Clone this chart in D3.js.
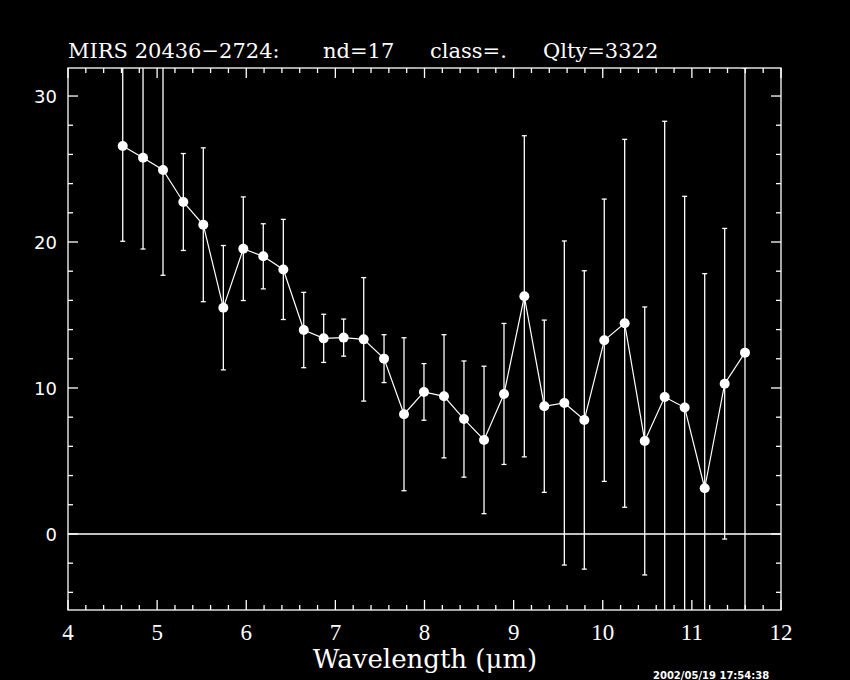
<!DOCTYPE html>
<html>
<head>
<meta charset="utf-8">
<script src="https://cdn.jsdelivr.net/npm/d3@7"></script>
<style>
  body { margin: 0; background: #000; }
  svg { display: block; background: #000; }
  text { fill: #fff; }
</style>
</head>
<body>
<div id="viz"></div>
<script>
// wavelength (um), flux and 1-sigma error
const wavelength = [4.614, 4.842, 5.066, 5.294, 5.518, 5.743, 5.967, 6.191, 6.416, 6.645,
  6.869, 7.093, 7.318, 7.546, 7.770, 7.994, 8.219, 8.443, 8.668, 8.892,
  9.120, 9.344, 9.569, 9.793, 10.017, 10.246, 10.471, 10.695, 10.919, 11.144,
  11.368, 11.596];
const flux = [26.58, 25.77, 24.93, 22.74, 21.18, 15.50, 19.54, 19.02, 18.12, 13.97,
  13.40, 13.45, 13.33, 12.01, 8.20, 9.73, 9.43, 7.87, 6.44, 9.59,
  16.28, 8.75, 8.97, 7.81, 13.27, 14.43, 6.37, 9.38, 8.66, 3.13,
  10.29, 12.42];
const fluxErr = [6.53, 6.25, 7.21, 3.32, 5.27, 4.26, 3.55, 2.23, 3.43, 2.58,
  1.65, 1.27, 4.23, 1.64, 5.24, 1.94, 4.22, 3.98, 5.05, 4.83,
  11.0, 5.9, 11.1, 10.22, 9.67, 12.6, 9.18, 18.89, 14.47, 14.7,
  10.64, 19.5];
const xTicks = [4, 5, 6, 7, 8, 9, 10, 11, 12];
const yTicks = [0, 10, 20, 30];
const titleParts = ["MIRS 20436\u22122724:", "nd=17", "class=.", "Qlty=3322"];
const stamp = "2002/05/19 17:54:38";

const w = 850, h = 680;
const boxL = 68, boxR = 781, boxT = 68, boxB = 610;

const data = wavelength.map((d, i) => ({x: d, y: flux[i], e: fluxErr[i]}));

const svg = d3.select("#viz").append("svg")
  .attr("width", w).attr("height", h);

const x = d3.scaleLinear().domain([4, 12]).range([boxL, boxR]);
const y = d3.scaleLinear().domain([-5.21, 31.92]).range([boxB, boxT]);

svg.append("clipPath").attr("id", "plot")
  .append("rect")
  .attr("x", boxL).attr("y", boxT)
  .attr("width", boxR - boxL).attr("height", boxB - boxT);

// frame
svg.append("rect")
  .attr("x", boxL).attr("y", boxT)
  .attr("width", boxR - boxL).attr("height", boxB - boxT)
  .attr("fill", "none").attr("stroke", "#fff").attr("stroke-width", 1.3);

// ticks on all four sides, pointing inward
const xMinor = d3.range(4, 12.001, 0.2).map(v => +v.toFixed(1));
const yMinor = d3.range(-4, 31, 2);

const tickG = svg.append("g").attr("stroke", "#fff").attr("stroke-width", 1.3);
xMinor.forEach(v => {
  const len = Number.isInteger(v) ? 10 : 5;
  tickG.append("line").attr("x1", x(v)).attr("x2", x(v)).attr("y1", boxB).attr("y2", boxB - len);
  tickG.append("line").attr("x1", x(v)).attr("x2", x(v)).attr("y1", boxT).attr("y2", boxT + len);
});
yMinor.forEach(v => {
  const len = v % 10 === 0 ? 10 : 5;
  tickG.append("line").attr("y1", y(v)).attr("y2", y(v)).attr("x1", boxL).attr("x2", boxL + len);
  tickG.append("line").attr("y1", y(v)).attr("y2", y(v)).attr("x1", boxR).attr("x2", boxR - len);
});

// tick labels
svg.append("g").selectAll("text").data(xTicks).enter().append("text")
  .attr("x", d => x(d)).attr("y", 640)
  .attr("text-anchor", "middle")
  .style("font-family", "Liberation Serif")
  .style("font-size", "23px")
  .text(d => d);

svg.append("g").selectAll("text").data(yTicks).enter().append("text")
  .attr("x", 57).attr("y", d => y(d) + 7)
  .attr("text-anchor", "end")
  .style("font-family", "DejaVu Sans")
  .style("font-size", "18px")
  .text(d => d);

// zero line
svg.append("line")
  .attr("x1", boxL).attr("x2", boxR)
  .attr("y1", y(0)).attr("y2", y(0))
  .attr("stroke", "#fff").attr("stroke-width", 1.6);

const plot = svg.append("g").attr("clip-path", "url(#plot)");

// error bars
const bars = plot.append("g").attr("stroke", "#fff").attr("stroke-width", 1.3);
bars.selectAll(".bar").data(data).enter().append("line")
  .attr("x1", d => x(d.x)).attr("x2", d => x(d.x))
  .attr("y1", d => y(d.y - d.e)).attr("y2", d => y(d.y + d.e));
bars.selectAll(".capHi").data(data).enter().append("line")
  .attr("x1", d => x(d.x) - 2.5).attr("x2", d => x(d.x) + 2.5)
  .attr("y1", d => y(d.y + d.e)).attr("y2", d => y(d.y + d.e));
bars.selectAll(".capLo").data(data).enter().append("line")
  .attr("x1", d => x(d.x) - 2.5).attr("x2", d => x(d.x) + 2.5)
  .attr("y1", d => y(d.y - d.e)).attr("y2", d => y(d.y - d.e));

// connecting line
plot.append("path").datum(data)
  .attr("fill", "none").attr("stroke", "#fff").attr("stroke-width", 1.2)
  .attr("d", d3.line().x(d => x(d.x)).y(d => y(d.y)));

plot.selectAll("circle").data(data).enter().append("circle")
  .attr("cx", d => x(d.x)).attr("cy", d => y(d.y))
  .attr("r", 5).attr("fill", "#fff");

// title
const titleX = [68, 323, 430, 543];
svg.append("g").selectAll("text").data(titleParts).enter().append("text")
  .attr("x", (d, i) => titleX[i]).attr("y", 58)
  .style("font-family", "DejaVu Serif")
  .style("font-size", "21px")
  .text(d => d);

// axis label
svg.append("text")
  .attr("x", 425).attr("y", 668)
  .attr("text-anchor", "middle")
  .style("font-family", "DejaVu Serif")
  .style("font-size", "26px")
  .text("Wavelength (\u03bcm)");

svg.append("text")
  .attr("x", 653).attr("y", 679)
  .style("font-family", "DejaVu Sans")
  .style("font-size", "10px")
  .style("font-weight", "bold")
  .text(stamp);
</script>
</body>
</html>
